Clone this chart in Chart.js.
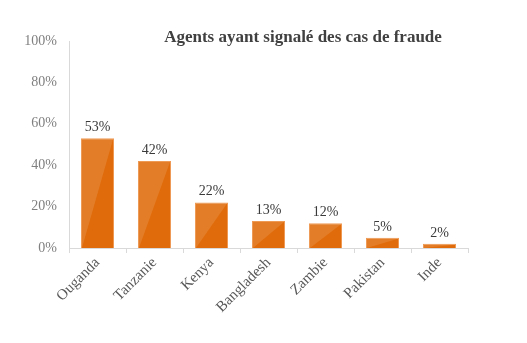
<!DOCTYPE html>
<html>
<head>
<meta charset="utf-8">
<script src="https://cdn.jsdelivr.net/npm/chart.js@4/dist/chart.umd.min.js"></script>
<style>
  html, body { margin: 0; padding: 0; background: #fff; }
  #wrap { width: 527px; height: 343px; }
</style>
</head>
<body>
<div id="wrap"><canvas id="chart" width="527" height="343"></canvas></div>
<script>
var pays = ['Ouganda', 'Tanzanie', 'Kenya', 'Bangladesh', 'Zambie', 'Pakistan', 'Inde'];
var fraude = [53, 42, 22, 13, 12, 5, 2];
var titre = 'Agents ayant signalé des cas de fraude';

var serif = '"Liberation Serif", "DejaVu Serif", serif';

// two-tone bar face plus the value above each bar
var barDecor = {
    id: 'barDecor',
    afterDatasetsDraw: function (chart) {
        var ctx = chart.ctx;
        var meta = chart.getDatasetMeta(0);
        ctx.save();
        for (var i = 0; i < meta.data.length; i++) {
            var bar = meta.data[i];
            var left = bar.x - bar.width / 2 + 1;
            var right = bar.x + bar.width / 2 - 1;
            ctx.beginPath();
            ctx.moveTo(left, bar.base);
            ctx.lineTo(left, bar.y + 1);
            ctx.lineTo(right, bar.y + 1);
            ctx.closePath();
            ctx.fillStyle = 'rgba(255,255,255,0.12)';
            ctx.fill();
        }
        ctx.fillStyle = '#3a3a3a';
        ctx.font = '14px ' + serif;
        ctx.textAlign = 'center';
        ctx.textBaseline = 'alphabetic';
        for (var j = 0; j < meta.data.length; j++) {
            ctx.fillText(fraude[j] + '%', meta.data[j].x, meta.data[j].y - 7);
        }
        ctx.font = 'bold 17px ' + serif;
        ctx.fillStyle = '#404040';
        ctx.fillText(titre, 303, 42);
        ctx.restore();
    }
};

new Chart(document.getElementById('chart').getContext('2d'), {
    type: 'bar',
    data: {
        labels: pays,
        datasets: [{
            data: fraude,
            backgroundColor: '#E06B0A',
            borderColor: '#EE9A55',
            borderWidth: 1,
            barPercentage: 0.58,
            categoryPercentage: 1
        }]
    },
    options: {
        responsive: false,
        animation: false,
        layout: { padding: { left: 0, right: 59, top: 41, bottom: 0 } },
        plugins: {
            legend: { display: false },
            tooltip: { enabled: false }
        },
        scales: {
            x: {
                grid: { display: true, drawOnChartArea: false, tickLength: 5, color: '#d9d9d9' },
                border: { color: '#d9d9d9' },
                ticks: {
                    color: '#595959',
                    font: { family: serif, size: 15 },
                    minRotation: 45,
                    maxRotation: 45,
                    padding: 1
                },
                afterFit: function (axis) { axis.height = 95; }
            },
            y: {
                min: 0,
                max: 100,
                grid: { display: false },
                border: { color: '#d9d9d9' },
                ticks: {
                    stepSize: 20,
                    color: '#808080',
                    font: { family: serif, size: 14 },
                    padding: 4,
                    callback: function (v) { return v + '%'; }
                },
                afterFit: function (axis) { axis.width = 69; }
            }
        }
    },
    plugins: [barDecor]
});
</script>
</body>
</html>
